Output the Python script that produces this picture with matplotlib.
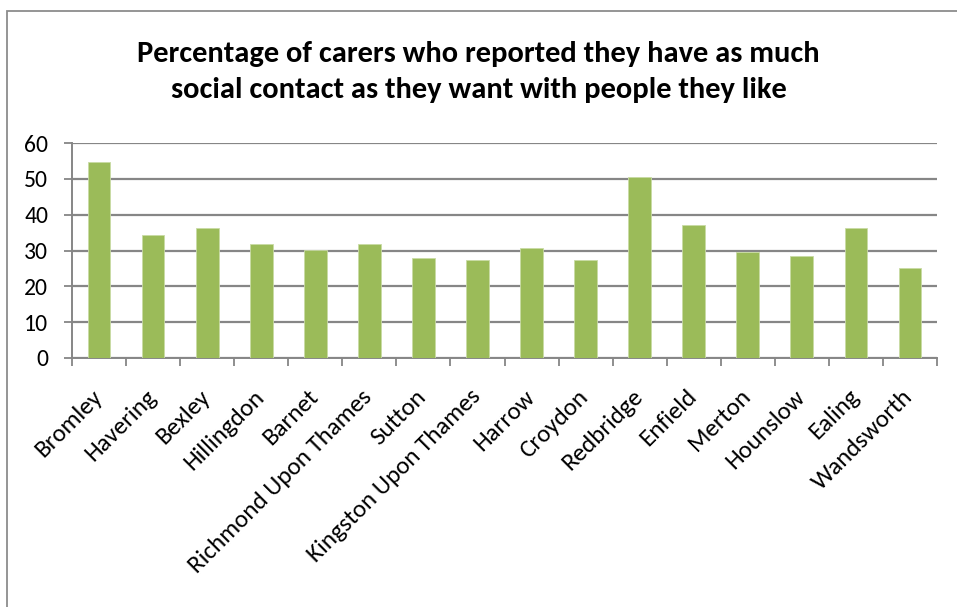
import matplotlib
matplotlib.use("Agg")
import matplotlib.pyplot as plt
from matplotlib.patches import Rectangle
from matplotlib.ticker import FixedLocator, NullFormatter
from matplotlib.transforms import ScaledTranslation
import numpy as np

boroughs = [
    "Bromley", "Havering", "Bexley", "Hillingdon", "Barnet",
    "Richmond Upon Thames", "Sutton", "Kingston Upon Thames", "Harrow",
    "Croydon", "Redbridge", "Enfield", "Merton", "Hounslow", "Ealing",
    "Wandsworth",
]
pct_contact = [54.6, 34.2, 36.4, 31.8, 30.2, 31.8, 27.9, 27.4, 30.7,
               27.4, 50.6, 37.0, 29.7, 28.5, 36.4, 25.1]
y_ticks = [0, 10, 20, 30, 40, 50, 60]

GREEN = "#9BBB59"
GRID = "#868686"

plt.rcParams["font.family"] = ["Carlito", "Open Sans", "DejaVu Sans"]

fig = plt.figure(figsize=(9.57, 6.07), dpi=100)
ax = fig.add_axes([72 / 957, 1 - 358 / 607, (937 - 72) / 957, (358 - 143) / 607])

# outer chart frame
fig.patches.append(Rectangle((7 / 957, -0.01), 1.0, 1 - 11 / 607 + 0.01,
                             transform=fig.transFigure, fill=False,
                             edgecolor="#8c8c8c", linewidth=1.3))

x = np.arange(len(boroughs))
ax.bar(x, pct_contact, width=0.42, color=GREEN, edgecolor="#c9dba5",
       linewidth=0.6, zorder=3)

ax.set_xlim(-0.5, len(boroughs) - 0.5)
ax.set_ylim(0, 60)
ax.set_yticks(y_ticks)
ax.yaxis.grid(True, color=GRID, linewidth=1.6, zorder=0)

ax.set_xticks(x)
ax.set_xticklabels(boroughs, rotation=45, ha="right", rotation_mode="anchor",
                   fontsize=18)
ax.tick_params(axis="x", length=0, pad=20)
# nudge the slanted names so their ends sit under the bar centres
shift = ScaledTranslation(-8 / 100, 0, fig.dpi_scale_trans)
for lbl in ax.get_xticklabels():
    lbl.set_transform(lbl.get_transform() + shift)

ax.xaxis.set_minor_locator(FixedLocator(np.arange(-0.5, len(boroughs), 1)))
ax.xaxis.set_minor_formatter(NullFormatter())
ax.tick_params(axis="x", which="minor", length=6, width=1.3, color=GRID)
ax.tick_params(axis="y", length=6, width=1.3, color=GRID, labelsize=17, pad=11)

for side in ("top", "right"):
    ax.spines[side].set_visible(False)
for side in ("left", "bottom"):
    ax.spines[side].set_color(GRID)
    ax.spines[side].set_linewidth(1.4)

fig.text(0.5, 1 - 72 / 607,
         "Percentage of carers who reported they have as much\n"
         "social contact as they want with people they like",
         ha="center", va="center", fontsize=22, fontweight="bold",
         linespacing=1.5)

fig.savefig("out.png", dpi=100)
